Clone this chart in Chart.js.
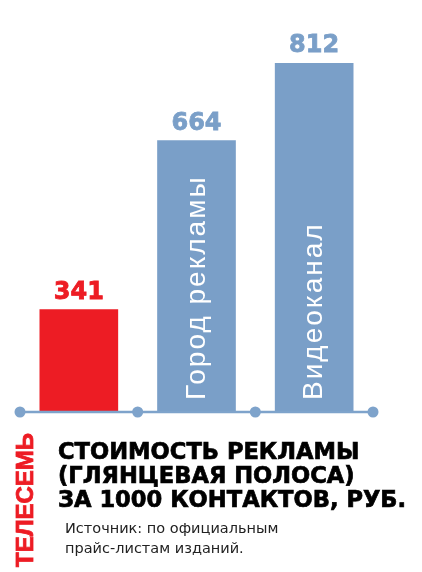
<!DOCTYPE html>
<html lang="ru">
<head>
<meta charset="utf-8">
<script src="https://cdn.jsdelivr.net/npm/chart.js@4"></script>
<style>
  html, body { margin: 0; padding: 0; background: #fff; }
  .wrap { position: relative; width: 422px; height: 572px; overflow: hidden; }
  #priceChart { position: absolute; left: 0; top: 0; }
  .title {
    position: absolute; left: 58px; top: 439px;
    font-family: "DejaVu Sans", sans-serif; font-weight: bold;
    font-size: 22.6px; line-height: 24px; color: #000; white-space: nowrap;
    -webkit-text-stroke: 0.7px #000;
  }
  .source {
    position: absolute; left: 65px; top: 518px;
    font-family: "DejaVu Sans", sans-serif; font-size: 14.5px;
    line-height: 20px; color: #222; white-space: nowrap;
  }
</style>
</head>
<body>
<div class="wrap">
  <canvas id="priceChart" width="422" height="572"></canvas>
  <div class="title">СТОИМОСТЬ РЕКЛАМЫ<br>(ГЛЯНЦЕВАЯ ПОЛОСА)<br>ЗА 1000 КОНТАКТОВ, РУБ.</div>
  <div class="source">Источник: по официальным<br>прайс-листам изданий.</div>
</div>
<script>
/* =========================
   DATA
========================= */
const categories = ["Телесемь", "Город рекламы", "Видеоканал"];
const prices = [341, 664, 812];

const RED = '#ed1c24';
const BLUE = '#7a9fc8';
const barColors = [RED, BLUE, BLUE];

/* =========================
   AXIS LINE + DOTS
========================= */
const axisPlugin = {
  id: 'axisLine',
  afterDatasetsDraw(chart) {
    const ctx = chart.ctx;
    const x = chart.scales.x;
    const y = chart.chartArea.bottom;

    ctx.save();
    ctx.strokeStyle = '#7ea3cb';
    ctx.fillStyle = '#7ea3cb';
    ctx.lineWidth = 2.5;
    ctx.beginPath();
    ctx.moveTo(x.getPixelForValue(-0.5), y);
    ctx.lineTo(x.getPixelForValue(categories.length - 0.5), y);
    ctx.stroke();

    for (let i = 0; i <= categories.length; i++) {
      ctx.beginPath();
      ctx.arc(x.getPixelForValue(i - 0.5), y, 5.5, 0, Math.PI * 2);
      ctx.fill();
    }
    ctx.restore();
  }
};

/* =========================
   VALUE + NAME LABELS
========================= */
const labelPlugin = {
  id: 'barLabels',
  afterDatasetsDraw(chart) {
    const ctx = chart.ctx;
    const bars = chart.getDatasetMeta(0).data;
    const bottom = chart.chartArea.bottom;

    ctx.save();
    bars.forEach((bar, i) => {
      // value on top
      ctx.font = 'bold 24px "DejaVu Sans"';
      ctx.fillStyle = barColors[i];
      ctx.strokeStyle = barColors[i];
      ctx.lineWidth = 0.8;
      ctx.textAlign = 'center';
      ctx.textBaseline = 'alphabetic';
      ctx.fillText(String(prices[i]), bar.x, bar.y - 11);
      ctx.strokeText(String(prices[i]), bar.x, bar.y - 11);

      if (i === 0) {
        // first name sits outside, under the axis
        ctx.save();
        ctx.translate(33, 567);
        ctx.rotate(-Math.PI / 2);
        ctx.font = 'bold 24px "Liberation Sans"';
        ctx.fillStyle = RED;
        ctx.strokeStyle = RED;
        ctx.lineWidth = 0.8;
        ctx.textAlign = 'left';
        ctx.fillText(categories[i].toUpperCase(), 0, 0);
        ctx.strokeText(categories[i].toUpperCase(), 0, 0);
        ctx.restore();
        return;
      }

      // name inside the bar, rotated (base is off-area since y starts above 0)
      ctx.save();
      ctx.translate(bar.x + 8, bottom - 12);
      ctx.rotate(-Math.PI / 2);
      ctx.font = '28px "Liberation Sans"';
      ctx.letterSpacing = '2px';
      ctx.fillStyle = '#fff';
      ctx.textAlign = 'left';
      ctx.fillText(categories[i], 0, 0);
      ctx.restore();
    });
    ctx.restore();
  }
};

/* =========================
   CHART
========================= */
const ctx = document.getElementById('priceChart').getContext('2d');

const chart = new Chart(ctx, {
  type: 'bar',
  data: {
    labels: categories,
    datasets: [{
      data: prices,
      backgroundColor: barColors,
      borderWidth: 0,
      barThickness: 78
    }]
  },
  options: {
    responsive: false,
    animation: false,
    layout: {
      padding: { left: 20, right: 49, top: 10, bottom: 160 }
    },
    plugins: {
      legend: { display: false },
      tooltip: { enabled: false }
    },
    scales: {
      x: { display: false, offset: true },
      y: { display: false, min: 145, max: 914 }
    }
  },
  plugins: [axisPlugin, labelPlugin]
});
</script>
</body>
</html>
